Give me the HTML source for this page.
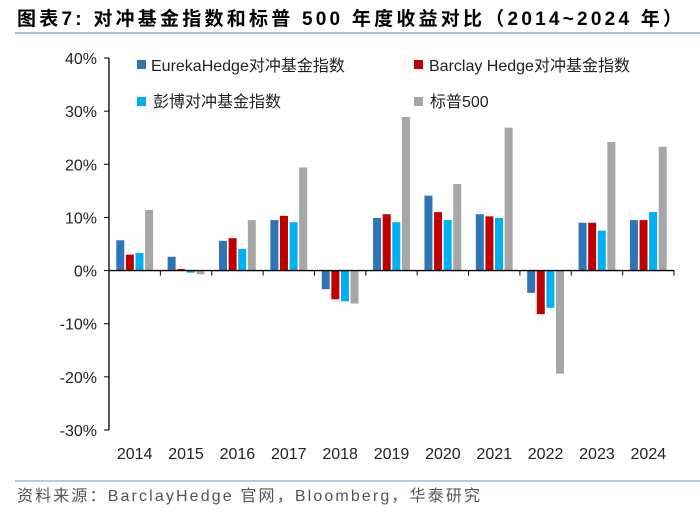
<!DOCTYPE html>
<html><head><meta charset="utf-8"><style>
body{margin:0;background:#fff;width:700px;height:514px;overflow:hidden;font-family:"Liberation Sans","Noto Sans CJK SC",sans-serif}
</style></head><body>
<svg width="700" height="514" xmlns="http://www.w3.org/2000/svg" font-family="Liberation Sans, Noto Sans CJK SC, sans-serif">
<text x="17" y="25" font-size="19" font-weight="bold" fill="#000" textLength="665" lengthAdjust="spacing">图表7:  对冲基金指数和标普 500 年度收益对比（2014~2024 年）</text>
<line x1="15" y1="33" x2="700" y2="33" stroke="#8eaac8" stroke-width="1.5"/>
<line x1="15" y1="481" x2="700" y2="481" stroke="#8eaac8" stroke-width="1.2"/>
<g id="plot"></g>
<g font-size="16" fill="#222">
<rect x="137" y="60" width="9" height="9" fill="#2e75b6"/>
<text x="151" y="71">EurekaHedge对冲基金指数</text>
<rect x="414" y="60" width="9" height="9" fill="#c00000"/>
<text x="429" y="71">Barclay Hedge对冲基金指数</text>
<rect x="137" y="97" width="9" height="9" fill="#00b0f0"/>
<text x="153" y="107">彭博对冲基金指数</text>
<rect x="414" y="97" width="9" height="9" fill="#a6a6a6"/>
<text x="430" y="107">标普500</text>
</g>
<text x="17" y="501" font-size="16" fill="#555" textLength="463" lengthAdjust="spacing">资料来源：BarclayHedge 官网，Bloomberg，华泰研究</text>
</svg>
<script>
const years=["2014","2015","2016","2017","2018","2019","2020","2021","2022","2023","2024"];
const eureka=[5.7,2.6,5.6,9.5,-3.5,9.9,14.1,10.6,-4.2,9.0,9.5];
const barclay=[3.0,0.3,6.1,10.3,-5.4,10.6,11.0,10.2,-8.2,9.0,9.5];
const bloomberg=[3.3,-0.4,4.1,9.1,-5.8,9.1,9.5,9.9,-7.0,7.5,11.0];
const sp500=[11.4,-0.7,9.5,19.4,-6.2,28.9,16.3,26.9,-19.4,24.2,23.3];
const yTicks=[40,30,20,10,0,-10,-20,-30];
const NS="http://www.w3.org/2000/svg";
const g=document.getElementById("plot");
const x0=109,x1=674,yTop=58,yBot=430,vMax=40,vMin=-30;
const y=v=>yTop+(vMax-v)/(vMax-vMin)*(yBot-yTop);
const gw=(x1-x0)/years.length;
function mk(t,a){const e=document.createElementNS(NS,t);for(const k in a)e.setAttribute(k,a[k]);g.appendChild(e);return e;}
let ax=mk("line",{x1:x0,y1:yTop,x2:x0,y2:yBot,stroke:"#000","stroke-width":1.3});


yTicks.forEach(v=>{
 let t=mk("line",{x1:x0-5,y1:y(v),x2:x0,y2:y(v),stroke:"#000"});
 
 
 let l=mk("text",{x:x0-12,y:y(v)+6,"text-anchor":"end","font-size":16,fill:"#222"});
 l.textContent=v+"%";
 
 
});
const series=[[eureka,"#2e75b6","eureka"],[barclay,"#c00000","barclay"],[bloomberg,"#00b0f0","bloomberg"],[sp500,"#a6a6a6","sp500"]];
const bw=8,step=9.6;
years.forEach((yr,i)=>{
 const gx=x0+i*gw, c=gx+gw/2;
 series.forEach((s,j)=>{
  const v=s[0][i];
  const bx=c-2*step+j*step+(step-bw)/2;
  let r=mk("rect",{x:bx,y:Math.min(y(v),y(0)),width:bw,height:Math.abs(y(v)-y(0)),fill:s[1]});
  
  
 });
 let t=mk("line",{x1:gx+gw,y1:y(0),x2:gx+gw,y2:y(0)+5,stroke:"#000"});
 
 
 let l=mk("text",{x:c,y:459,"text-anchor":"middle","font-size":16,fill:"#222"});
 l.textContent=yr;
 
 
});
let xa=mk("line",{x1:x0,y1:y(0),x2:x1,y2:y(0),stroke:"#000","stroke-width":1.3});


</script>
</body></html>
